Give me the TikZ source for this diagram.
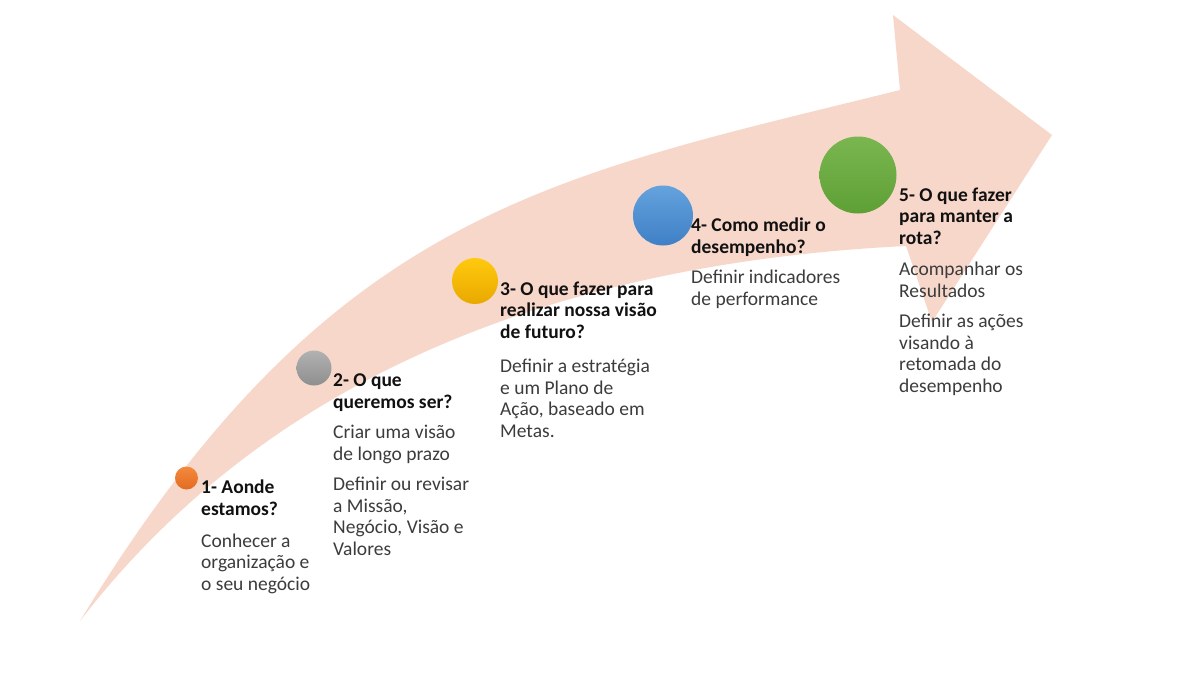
\documentclass[tikz,border=0pt]{standalone}
\usepackage{fontspec}
\setmainfont{Carlito}
\definecolor{arrowfill}{HTML}{F8D7CB}
\definecolor{headc}{HTML}{111111}
\definecolor{bodyc}{HTML}{3C3C3C}
\definecolor{orT}{HTML}{F4893D}\definecolor{orB}{HTML}{E26C20}
\definecolor{grT}{HTML}{B2B2B2}\definecolor{grB}{HTML}{8E8E8E}
\definecolor{yeT}{HTML}{FFC90E}\definecolor{yeB}{HTML}{E9A900}
\definecolor{blT}{HTML}{64A3DD}\definecolor{blB}{HTML}{3F7FC6}
\definecolor{gnT}{HTML}{7AB650}\definecolor{gnB}{HTML}{5EA035}
\begin{document}
\begin{tikzpicture}[x=1pt,y=-1pt,
  dot/.style={circle,inner sep=0pt,draw=none},
  head/.style={anchor=base west,inner sep=0pt,align=left,text=headc,
    font=\fontsize{19.5}{21.5}\selectfont\bfseries},
  body/.style={anchor=base west,inner sep=0pt,align=left,text=bodyc,
    font=\fontsize{19.5}{21.5}\selectfont}]
\useasboundingbox (0,0) rectangle (1200,675);
\fill[white] (0,0) rectangle (1200,675);
% curved arrow
\fill[arrowfill] (80,621) .. controls (330,210) and (550,177) .. (900,90)
  -- (893,15) -- (1052,135) -- (932,322) -- (906,246)
  .. controls (520,265) and (250,400) .. (80,621) -- cycle;
% circles
\node[dot,minimum size=23pt,top color=orT,bottom color=orB] (c1) at (186.5,478) {};
\node[dot,minimum size=35pt,top color=grT,bottom color=grB] (c2) at (314,368) {};
\node[dot,minimum size=46pt,top color=yeT,bottom color=yeB] (c3) at (475,281) {};
\node[dot,minimum size=60pt,top color=blT,bottom color=blB] (c4) at (663,215.5) {};
\node[dot,minimum size=77pt,top color=gnT,bottom color=gnB] (c5) at (858,175) {};
% texts (anchored at the baseline of their last line)
\node[head] (h1) at (201,515) {1- Aonde\\estamos?};
\node[body] (b1) at (201,590) {Conhecer a\\organização e\\o seu negócio};
\node[head] (h2) at (333,408) {2- O que\\queremos ser?};
\node[body] (b2) at (333,555) {Criar uma visão\\de longo prazo\\[9pt]Definir ou revisar\\a Missão,\\Negócio, Visão e\\Valores};
\node[head] (h3) at (500,338) {3- O que fazer para\\realizar nossa visão\\de futuro?};
\node[body] (b3) at (500,437) {Definir a estratégia\\e um Plano de\\Ação, baseado em\\Metas.};
\node[head] (h4) at (691,253) {4- Como medir o\\desempenho?};
\node[body] (b4) at (691,305) {Definir indicadores\\de performance};
\node[head] (h5) at (899,244) {5- O que fazer\\para manter a\\rota?};
\node[body] (b5) at (899,392) {Acompanhar os\\Resultados\\[9pt]Definir as ações\\visando à\\retomada do\\desempenho};
\end{tikzpicture}
\end{document}
